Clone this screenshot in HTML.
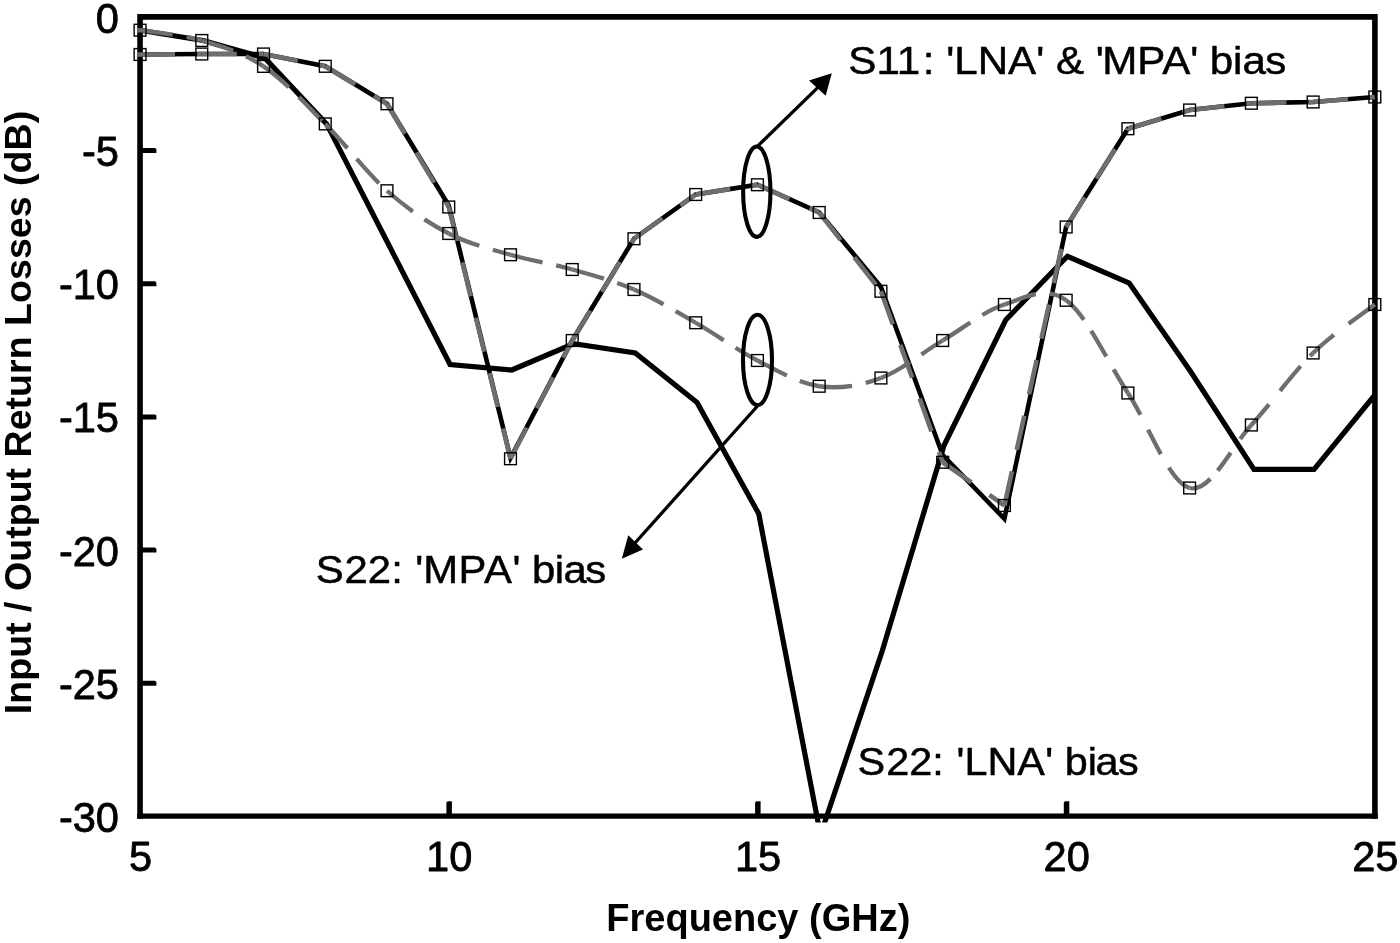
<!DOCTYPE html>
<html><head><meta charset="utf-8"><title>Input / Output Return Losses</title>
<style>html,body{margin:0;padding:0;background:#fff}svg{display:block}text{font-family:"Liberation Sans",sans-serif;fill:#000}text.r{stroke:#000;stroke-width:0.5px;stroke-linejoin:round}text.n{stroke:#000;stroke-width:0.8px;stroke-linejoin:round}</style></head><body>
<svg width="1400" height="943" viewBox="0 0 1400 943">
<rect width="1400" height="943" fill="#fff"/>
<defs><clipPath id="clip"><rect x="130" y="10" width="1260" height="812.5"/></clipPath></defs>
<path d="M140.05,14.1 V818.7 M1374.9,14.1 V818.7 M137.25,16.9 H1377.7" fill="none" stroke="#000" stroke-width="5.6"/>
<path d="M137.25,816.15 H1377.7" fill="none" stroke="#000" stroke-width="5.1"/>
<path d="M140,148.00 H155 L156.4,149.20 V153.00 H140 Z" fill="#000"/>
<path d="M140,281.20 H155 L156.4,282.40 V286.20 H140 Z" fill="#000"/>
<path d="M140,414.40 H155 L156.4,415.60 V419.40 H140 Z" fill="#000"/>
<path d="M140,547.60 H155 L156.4,548.80 V552.60 H140 Z" fill="#000"/>
<path d="M140,680.80 H155 L156.4,682.00 V685.80 H140 Z" fill="#000"/>
<path d="M446.40,816 V802.6 L447.75,801.2 H451.90 V816 Z" fill="#000"/>
<path d="M755.10,816 V802.6 L756.45,801.2 H760.60 V816 Z" fill="#000"/>
<path d="M1063.80,816 V802.6 L1065.15,801.2 H1069.30 V816 Z" fill="#000"/>
<path d="M140.05,30.20 L203.09,40.50 L264.83,58.00 L326.57,123.90 L388.31,244.00 L450.05,364.50 L511.79,370.00 L573.53,343.75 L635.27,353.00 L697.01,402.50 L758.75,513.75 L820.49,835.00 L882.23,651.00 L943.97,445.50 L1005.71,320.00 L1067.45,256.25 L1129.19,283.00 L1190.93,372.00 L1253.97,469.30 L1314.01,469.30 L1374.85,395.00" fill="none" stroke="#000" stroke-width="5.2" stroke-linejoin="miter" stroke-miterlimit="10" clip-path="url(#clip)"/>
<path d="M140.05,54.50 L201.79,54.00 L263.53,54.00 L325.27,66.30 L387.01,103.75 L448.75,205.50 L510.49,458.00 L572.23,340.50 L633.97,238.75 L695.71,194.50 L757.45,184.75 L819.19,212.50 L880.93,287.00 L942.67,455.00 L1004.41,518.75 L1066.15,227.00 L1127.89,128.75 L1189.63,110.00 L1251.37,103.25 L1313.11,102.00 L1374.85,97.00" fill="none" stroke="#000" stroke-width="4.6" stroke-linejoin="miter" stroke-miterlimit="10"/>
<path d="M137.4,54.5 H140.2 M137.4,30.2 H140.2" stroke="#6e6e6e" stroke-width="4.6"/>
<g fill="none" stroke="#6e6e6e" stroke-width="4.6" stroke-dasharray="35 22">
<path d="M140.05,54.50 L201.79,54.00"/>
<path d="M201.79,54.00 L263.53,54.00"/>
<path d="M263.53,54.00 L325.27,66.30"/>
<path d="M325.27,66.30 L387.01,103.75"/>
<path d="M387.01,103.75 L448.75,207.00"/>
<path d="M448.75,207.00 L510.49,458.75"/>
<path d="M510.49,458.75 L572.23,340.50"/>
<path d="M572.23,340.50 L633.97,238.75"/>
<path d="M633.97,238.75 L695.71,194.50"/>
<path d="M695.71,194.50 L757.45,184.75"/>
<path d="M757.45,184.75 L819.19,212.50"/>
<path d="M819.19,212.50 L880.93,291.25"/>
<path d="M880.93,291.25 L942.67,462.25"/>
<path d="M942.67,462.25 L1004.41,505.50"/>
<path d="M1004.41,505.50 L1066.15,227.00"/>
<path d="M1066.15,227.00 L1127.89,128.75"/>
<path d="M1127.89,128.75 L1189.63,110.00"/>
<path d="M1189.63,110.00 L1251.37,103.25"/>
<path d="M1251.37,103.25 L1313.11,102.00"/>
<path d="M1313.11,102.00 L1374.85,97.00"/>
</g>
<g fill="none" stroke="#6e6e6e" stroke-width="4.3" stroke-dasharray="33 14">
<path d="M140.05,30.20 C150.34,31.92 181.21,34.47 201.79,40.50"/>
<path d="M201.79,40.50 C222.37,46.53 242.95,52.50 263.53,66.40"/>
<path d="M263.53,66.40 C284.11,80.30 304.69,103.18 325.27,123.90"/>
<path d="M325.27,123.90 C345.85,144.62 366.43,172.48 387.01,190.75"/>
<path d="M387.01,190.75 C407.59,209.02 428.17,222.83 448.75,233.50"/>
<path d="M448.75,233.50 C469.33,244.17 489.91,248.75 510.49,254.75"/>
<path d="M510.49,254.75 C531.07,260.75 551.65,263.71 572.23,269.50"/>
<path d="M572.23,269.50 C592.81,275.29 613.39,280.62 633.97,289.50"/>
<path d="M633.97,289.50 C654.55,298.38 675.13,310.92 695.71,322.75"/>
<path d="M695.71,322.75 C716.29,334.58 736.87,349.92 757.45,360.50"/>
<path d="M757.45,360.50 C778.03,371.08 798.61,383.33 819.19,386.25"/>
<path d="M819.19,386.25 C839.77,389.17 860.35,385.62 880.93,378.00"/>
<path d="M880.93,378.00 C901.51,370.38 922.09,352.75 942.67,340.50"/>
<path d="M942.67,340.50 C963.25,328.25 983.83,311.21 1004.41,304.50"/>
<path d="M1004.41,304.50 C1024.99,297.79 1045.57,285.50 1066.15,300.25"/>
<path d="M1066.15,300.25 C1086.73,315.00 1107.31,361.71 1127.89,393.00" stroke-dasharray="26.6 13.2 29.8 14.7 32.7 50.0"/>
<path d="M1127.89,393.00 C1148.47,424.29 1169.05,482.67 1189.63,488.00" stroke-dasharray="25.1 16.7 27.5 15.7 34.9 50.0"/>
<path d="M1189.63,488.00 C1210.21,493.33 1230.79,447.50 1251.37,425.00" stroke-dasharray="23.9 11.0 22.1 16.5 23.0 50.0"/>
<path d="M1251.37,425.00 C1271.95,402.50 1292.53,373.08 1313.11,353.00" stroke-dasharray="27.1 17.5 32.0 13.7 9.6 50.0"/>
<path d="M1313.11,353.00 C1333.69,332.92 1364.56,312.58 1374.85,304.50" stroke-dasharray="27.5 18.5 37.6 50.0"/>
</g>
<rect x="134.15" y="48.60" width="11.8" height="11.8" fill="none" stroke="#000" stroke-width="1.4"/>
<rect x="195.89" y="48.10" width="11.8" height="11.8" fill="none" stroke="#000" stroke-width="1.4"/>
<rect x="257.63" y="48.10" width="11.8" height="11.8" fill="none" stroke="#000" stroke-width="1.4"/>
<rect x="319.37" y="60.40" width="11.8" height="11.8" fill="none" stroke="#000" stroke-width="1.4"/>
<rect x="381.11" y="97.85" width="11.8" height="11.8" fill="none" stroke="#000" stroke-width="1.4"/>
<rect x="442.85" y="201.10" width="11.8" height="11.8" fill="none" stroke="#000" stroke-width="1.4"/>
<rect x="504.59" y="452.85" width="11.8" height="11.8" fill="none" stroke="#000" stroke-width="1.4"/>
<rect x="566.33" y="334.60" width="11.8" height="11.8" fill="none" stroke="#000" stroke-width="1.4"/>
<rect x="628.07" y="232.85" width="11.8" height="11.8" fill="none" stroke="#000" stroke-width="1.4"/>
<rect x="689.81" y="188.60" width="11.8" height="11.8" fill="none" stroke="#000" stroke-width="1.4"/>
<rect x="751.55" y="178.85" width="11.8" height="11.8" fill="none" stroke="#000" stroke-width="1.4"/>
<rect x="813.29" y="206.60" width="11.8" height="11.8" fill="none" stroke="#000" stroke-width="1.4"/>
<rect x="875.03" y="285.35" width="11.8" height="11.8" fill="none" stroke="#000" stroke-width="1.4"/>
<rect x="936.77" y="456.35" width="11.8" height="11.8" fill="none" stroke="#000" stroke-width="1.4"/>
<rect x="998.51" y="499.60" width="11.8" height="11.8" fill="none" stroke="#000" stroke-width="1.4"/>
<rect x="1060.25" y="221.10" width="11.8" height="11.8" fill="none" stroke="#000" stroke-width="1.4"/>
<rect x="1121.99" y="122.85" width="11.8" height="11.8" fill="none" stroke="#000" stroke-width="1.4"/>
<rect x="1183.73" y="104.10" width="11.8" height="11.8" fill="none" stroke="#000" stroke-width="1.4"/>
<rect x="1245.47" y="97.35" width="11.8" height="11.8" fill="none" stroke="#000" stroke-width="1.4"/>
<rect x="1307.21" y="96.10" width="11.8" height="11.8" fill="none" stroke="#000" stroke-width="1.4"/>
<rect x="1368.95" y="91.10" width="11.8" height="11.8" fill="none" stroke="#000" stroke-width="1.4"/>
<rect x="134.15" y="24.30" width="11.8" height="11.8" fill="none" stroke="#000" stroke-width="1.4"/>
<rect x="195.89" y="34.60" width="11.8" height="11.8" fill="none" stroke="#000" stroke-width="1.4"/>
<rect x="257.63" y="60.50" width="11.8" height="11.8" fill="none" stroke="#000" stroke-width="1.4"/>
<rect x="319.37" y="118.00" width="11.8" height="11.8" fill="none" stroke="#000" stroke-width="1.4"/>
<rect x="381.11" y="184.85" width="11.8" height="11.8" fill="none" stroke="#000" stroke-width="1.4"/>
<rect x="442.85" y="227.60" width="11.8" height="11.8" fill="none" stroke="#000" stroke-width="1.4"/>
<rect x="504.59" y="248.85" width="11.8" height="11.8" fill="none" stroke="#000" stroke-width="1.4"/>
<rect x="566.33" y="263.60" width="11.8" height="11.8" fill="none" stroke="#000" stroke-width="1.4"/>
<rect x="628.07" y="283.60" width="11.8" height="11.8" fill="none" stroke="#000" stroke-width="1.4"/>
<rect x="689.81" y="316.85" width="11.8" height="11.8" fill="none" stroke="#000" stroke-width="1.4"/>
<rect x="751.55" y="354.60" width="11.8" height="11.8" fill="none" stroke="#000" stroke-width="1.4"/>
<rect x="813.29" y="380.35" width="11.8" height="11.8" fill="none" stroke="#000" stroke-width="1.4"/>
<rect x="875.03" y="372.10" width="11.8" height="11.8" fill="none" stroke="#000" stroke-width="1.4"/>
<rect x="936.77" y="334.60" width="11.8" height="11.8" fill="none" stroke="#000" stroke-width="1.4"/>
<rect x="998.51" y="298.60" width="11.8" height="11.8" fill="none" stroke="#000" stroke-width="1.4"/>
<rect x="1060.25" y="294.35" width="11.8" height="11.8" fill="none" stroke="#000" stroke-width="1.4"/>
<rect x="1121.99" y="387.10" width="11.8" height="11.8" fill="none" stroke="#000" stroke-width="1.4"/>
<rect x="1183.73" y="482.10" width="11.8" height="11.8" fill="none" stroke="#000" stroke-width="1.4"/>
<rect x="1245.47" y="419.10" width="11.8" height="11.8" fill="none" stroke="#000" stroke-width="1.4"/>
<rect x="1307.21" y="347.10" width="11.8" height="11.8" fill="none" stroke="#000" stroke-width="1.4"/>
<rect x="1368.95" y="298.60" width="11.8" height="11.8" fill="none" stroke="#000" stroke-width="1.4"/>
<ellipse cx="756.8" cy="191.7" rx="13.65" ry="45.2" fill="none" stroke="#000" stroke-width="4.1"/>
<ellipse cx="757.5" cy="360" rx="14.5" ry="45.25" fill="none" stroke="#000" stroke-width="4.1"/>
<line x1="757.3" y1="146.4" x2="818" y2="87.4" stroke="#000" stroke-width="3.3"/>
<polygon points="831.8,73.3 809,80.6 825.7,95.8" fill="#000"/>
<line x1="757.5" y1="406" x2="635" y2="543" stroke="#000" stroke-width="3.3"/>
<polygon points="621.8,558.7 628.3,535.2 643,549.6" fill="#000"/>
<text class="r" transform="translate(848.3,74.0) scale(1.08,1)" font-size="39" font-weight="normal" text-anchor="start" dx="0 0 0 2.5 0 0 0 0 0 0 0 0 0 0 -1.5 0 0 0 0 -0.4 0 0 -0.6">S11: 'LNA' &amp; 'MPA' bias</text>
<text class="r" transform="translate(857.6,775.0) scale(1.061,1)" font-size="39" font-weight="normal" text-anchor="start" dx="0 1 0 0 0 1.2 0 0 0 0.4 0 0 0 -1.4 -0.5">S22: 'LNA' bias</text>
<text class="r" transform="translate(315.8,583.4) scale(1.074,1)" font-size="39" font-weight="normal" text-anchor="start" dx="0 0.8 0 0 0 0.8 0 0.4 0.4 0.6 0 0 -0.6 -0.4 -1.6">S22: 'MPA' bias</text>
<text class="n" transform="translate(119.0,32.7) scale(1.0,1)" font-size="41.6" font-weight="normal" text-anchor="end">0</text>
<text class="n" transform="translate(119.0,165.9) scale(1.0,1)" font-size="41.6" font-weight="normal" text-anchor="end">-5</text>
<text class="n" transform="translate(119.0,299.1) scale(1.0,1)" font-size="41.6" font-weight="normal" text-anchor="end">-10</text>
<text class="n" transform="translate(119.0,432.3) scale(1.0,1)" font-size="41.6" font-weight="normal" text-anchor="end">-15</text>
<text class="n" transform="translate(119.0,565.5) scale(1.0,1)" font-size="41.6" font-weight="normal" text-anchor="end">-20</text>
<text class="n" transform="translate(119.0,698.7) scale(1.0,1)" font-size="41.6" font-weight="normal" text-anchor="end">-25</text>
<text class="n" transform="translate(119.0,831.9) scale(1.0,1)" font-size="41.6" font-weight="normal" text-anchor="end">-30</text>
<text class="n" transform="translate(140.6,870.8) scale(1.0,1)" font-size="41.6" font-weight="normal" text-anchor="middle">5</text>
<text class="n" transform="translate(449.2,870.8) scale(1.0,1)" font-size="41.6" font-weight="normal" text-anchor="middle">10</text>
<text class="n" transform="translate(758.0,870.8) scale(1.0,1)" font-size="41.6" font-weight="normal" text-anchor="middle">15</text>
<text class="n" transform="translate(1066.7,870.8) scale(1.0,1)" font-size="41.6" font-weight="normal" text-anchor="middle">20</text>
<text class="n" transform="translate(1375.3,870.8) scale(1.0,1)" font-size="41.6" font-weight="normal" text-anchor="middle">25</text>
<text transform="translate(758.3,931) scale(1.0,1)" font-size="38" font-weight="bold" text-anchor="middle">Frequency (GHz)</text>
<text transform="translate(30.9,412.5) rotate(-90)" font-size="37.6" font-weight="bold" text-anchor="middle">Input / Output Return Losses (dB)</text>
</svg></body></html>
